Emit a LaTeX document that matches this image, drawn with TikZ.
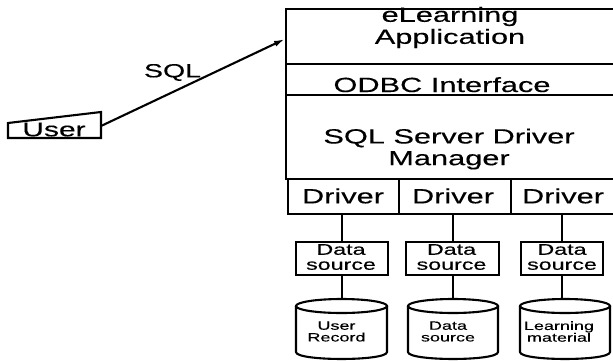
\documentclass[tikz,border=0pt]{standalone}
\usepackage{fontspec}
\setmainfont{Liberation Sans}
\newfontfamily\af[FakeStretch=1.5,FakeBold=0.3]{Liberation Sans}
\usetikzlibrary{arrows.meta}
\begin{document}
\begin{tikzpicture}[x=1pt,y=-1pt,line width=2.1pt,
  box/.style={draw,rectangle,inner sep=0pt,anchor=north west},
  big/.style={inner sep=0pt,align=center,font=\af\fontsize{20.5}{22}\selectfont},
  mid/.style={inner sep=0pt,align=center,font=\af\fontsize{15.5}{15}\selectfont},
  small/.style={inner sep=0pt,align=center,font=\af\fontsize{12}{11.7}\selectfont}]
\fill[white] (0,0) rectangle (613,360);
\useasboundingbox (0,0) rectangle (613,360);
% main stack
\node[box,minimum width=328pt,minimum height=55pt] (app) at (285,8) {};
\node[box,minimum width=328pt,minimum height=31pt] (odbc) at (285,63) {};
\node[box,minimum width=328pt,minimum height=84pt] (mgr) at (285,94) {};
\node[box,minimum width=111pt,minimum height=35pt] (d1) at (287,178) {};
\node[box,minimum width=112pt,minimum height=35pt] (d2) at (398,178) {};
\node[box,minimum width=103pt,minimum height=35pt] (d3) at (510,178) {};
\node[big] (appT) at (450,27.5) {eLearning\\Application};
\node[big,anchor=base] (odbcT) at (442,92) {ODBC Interface};
\node[big,font=\af\fontsize{20.5}{21.7}\selectfont] (mgrT) at (449,149) {SQL Server Driver\\Manager};
\node[big,anchor=base] (d1T) at (343,203.3) {Driver};
\node[big,anchor=base] (d2T) at (453,203.3) {Driver};
\node[big,anchor=base] (d3T) at (563,203.3) {Driver};
% data source boxes
\node[box,minimum width=92pt,minimum height=33pt] (ds1) at (295,241) {};
\node[box,minimum width=93pt,minimum height=33pt] (ds2) at (405,241) {};
\node[box,minimum width=82pt,minimum height=33pt] (ds3) at (520,241) {};
\node[mid] (ds1T) at (341,257) {Data\\source};
\node[mid] (ds2T) at (451.5,257) {Data\\source};
\node[mid] (ds3T) at (562,257) {Data\\source};
% cylinders
\draw (341.5,306) ellipse [x radius=45.5, y radius=7];
\draw (296,306) -- (296,352) .. controls (296,361.3) and (387,361.3) .. (387,352) -- (387,306);
\draw (453,306) ellipse [x radius=45, y radius=7];
\draw (408,306) -- (408,352) .. controls (408,361.3) and (498,361.3) .. (498,352) -- (498,306);
\draw (565,306) ellipse [x radius=45, y radius=7];
\draw (520,306) -- (520,352) .. controls (520,361.3) and (610,361.3) .. (610,352) -- (610,306);
\coordinate (c1top) at (341.5,299);
\coordinate (c2top) at (453,299);
\coordinate (c3top) at (565,299);
\node[small] (cyl1) at (336.5,331.5) {User\\Record};
\node[small] (cyl2) at (448,331.5) {Data\\source};
\node[small] (cyl3) at (559,331.5) {Learning\\material};
% connectors
\draw (ds1.north |- d1.south) -- (ds1.north);
\draw (ds2.north |- d2.south) -- (ds2.north);
\draw (ds3.north |- d3.south) -- (ds3.north);
\draw (ds1.south) -- (ds1.south |- c1top);
\draw (ds2.south) -- (ds2.south |- c2top);
\draw (ds3.south) -- (ds3.south |- c3top);
% user
\draw (8,123) -- (101,112) -- (101,138) -- (8,138) -- cycle;
\node[inner sep=0pt,anchor=base,font=\af\fontsize{20}{21}\selectfont] (userT) at (54,136.3) {User};
\coordinate (uR) at (101,126);
\coordinate (aIn) at (285,39);
\draw[-{Latex[length=11pt,width=6pt]}] (uR) -- (aIn);
\node[inner sep=0pt,anchor=base,font=\af\fontsize{19}{20}\selectfont] (sqlT) at (172.5,77.3) {SQL};
\end{tikzpicture}
\end{document}
